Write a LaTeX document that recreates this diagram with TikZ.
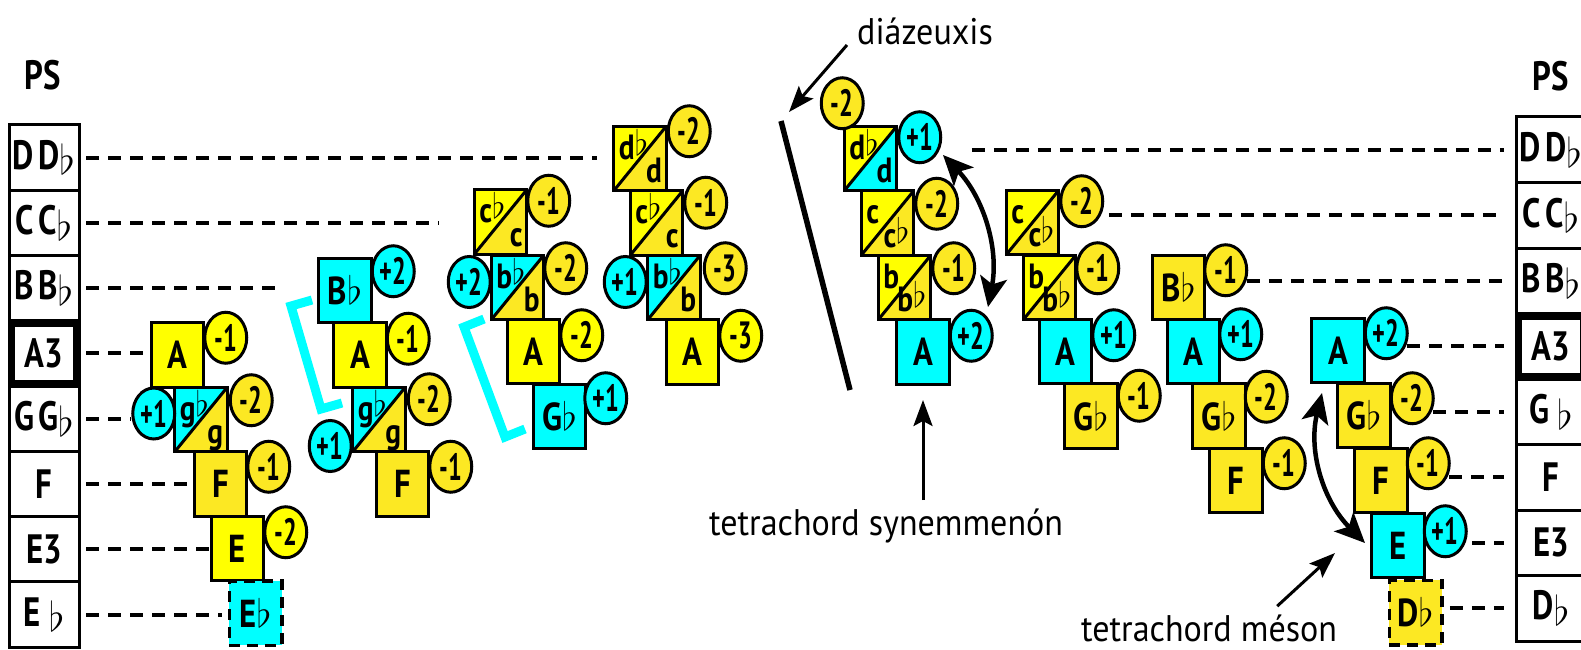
\RequirePackage{fix-cm}
\documentclass[tikz,border=0pt]{standalone}
\usepackage{fontspec}
\setmainfont{PT Sans}
\newfontfamily\lblfont[FakeStretch=0.84]{PT Sans}
\newfontfamily\tabfont[FakeStretch=0.8]{PT Sans}
\newfontfamily\cirfont[FakeStretch=0.64]{PT Sans}
\newfontfamily\txtfont[FakeStretch=0.92]{PT Sans}
\usetikzlibrary{arrows.meta,shapes.geometric}

\definecolor{ybright}{HTML}{FFFF00}
\definecolor{ygold}{HTML}{FCE823}
\definecolor{tcyan}{HTML}{00FFFF}

% flat signs: plain, raised (after small letters), lowered (table labels)
\newcommand\flt{\ensuremath{\flat}}
\newcommand\flsup{\raisebox{0.12em}{\ensuremath{\flat}}}
\newcommand\fllow{\raisebox{-0.14em}{\ensuremath{\flat}}}

\tikzset{
  rim/.style={line width=3pt, line join=miter},
  notebox/.style={draw, line width=3pt, minimum width=52.5pt, minimum height=64.5pt,
    inner sep=0pt, outer sep=0pt, font=\lblfont\bfseries\fontsize{39}{39}\selectfont},
  ghost/.style={minimum width=52.5pt, minimum height=64.5pt, inner sep=0pt, outer sep=0pt},
  notelbl/.style={inner sep=0pt, font=\lblfont\bfseries\fontsize{35}{35}\selectfont},
  dashbox/.style={notebox, line width=3.5pt, dash pattern=on 11pt off 7pt},
  circ/.style={ellipse, draw, line width=3pt, minimum width=42pt, minimum height=51pt,
    inner sep=0pt, outer sep=0pt, font=\cirfont\bfseries\fontsize{38}{38}\selectfont},
  cell/.style={draw, line width=3pt, minimum width=70pt, minimum height=65.3pt,
    inner sep=0pt, outer sep=0pt, font=\tabfont\bfseries\fontsize{41}{41}\selectfont},
  rcell/.style={cell, minimum height=65.5pt},
  pslabel/.style={inner sep=0pt, font=\tabfont\bfseries\fontsize{41}{41}\selectfont},
  guide/.style={line width=4pt, dash pattern=on 13pt off 9pt},
  txt/.style={inner sep=0pt, font=\txtfont\fontsize{37}{37}\selectfont},
  bracket/.style={tcyan, line width=9pt, line join=miter},
  pointer/.style={line width=3pt, -{Stealth[length=26pt,width=19pt,inset=5pt]}},
  swing/.style={line width=4.5pt,
    {Stealth[length=30pt,width=27pt,inset=7pt]}-{Stealth[length=30pt,width=27pt,inset=7pt]}},
}

% a note box cut along its diagonal: name, x, y, upper fill, lower fill, upper text, lower text
\newcommand\splitnote[7]{%
  \node[ghost] (#1) at (#2,#3) {};
  \fill[#4] (#1.north west) -- (#1.north east) -- (#1.south west) -- cycle;
  \fill[#5] (#1.north east) -- (#1.south east) -- (#1.south west) -- cycle;
  \draw[rim] (#1.south west) -- (#1.north east);
  \draw[rim] (#1.north west) rectangle (#1.south east);
  \node[notelbl, anchor=base west] at ([shift={(5,33)}]#1.north west) {#6};
  \node[notelbl, anchor=base east] at ([shift={(-4,-8)}]#1.south east) {#7};
}

\begin{document}
\begin{tikzpicture}[x=1pt,y=-1pt]
\path[use as bounding box] (0,0) rectangle (1581,650);
\clip (0,0) rectangle (1581,650);
\fill[white] (0,0) rectangle (1581,650);

% ---------- pitch tables ----------
\node[pslabel] (psL) at (43,75) {PS};
\node[cell] (L1) at (44,157.5) {D\hspace{4pt}D\fllow};
\node[cell] (L2) at (44,222.8) {C\hspace{4pt}C\fllow};
\node[cell] (L3) at (44,288.1) {B\hspace{4pt}B\fllow};
\node[cell] (L4) at (44,353.4) {A3};
\node[cell] (L5) at (44,418.7) {G\hspace{4pt}G\fllow};
\node[cell] (L6) at (44,484.0) {F};
\node[cell] (L7) at (44,549.3) {E3};
\node[cell] (L8) at (44,614.6) {E\hspace{8pt}\fllow};
\draw[line width=5pt] ([shift={(3.5,3.5)}]L4.north west) rectangle ([shift={(-3.5,-3.5)}]L4.south east);

\node[pslabel] (psR) at (1551,76) {PS};
\node[rcell] (R1) at (1551,149.75) {D\hspace{4pt}D\fllow};
\node[rcell] (R2) at (1551,215.25) {C\hspace{4pt}C\fllow};
\node[rcell] (R3) at (1551,280.75) {B\hspace{4pt}B\fllow};
\node[rcell] (R4) at (1551,346.25) {A3};
\node[rcell] (R5) at (1551,411.75) {G\hspace{8pt}\fllow};
\node[rcell] (R6) at (1551,477.25) {F};
\node[rcell] (R7) at (1551,542.75) {E3};
\node[rcell] (R8) at (1551,608.25) {D\fllow};
\draw[line width=5pt] ([shift={(3.5,3.5)}]R4.north west) rectangle ([shift={(-3.5,-3.5)}]R4.south east);

% ---------- brackets and the diazeuxis bar ----------
\draw[bracket] (312,300) -- (291,306) -- (321,409) -- (342,403);
\draw[bracket] (484,319) -- (464,327) -- (505,437) -- (525,429);
\coordinate (dzTop) at (781,121);
\coordinate (dzBot) at (850,390);
\draw[line width=5.5pt] (dzTop) -- (dzBot);

% ---------- column 1 ----------
\node[notebox, fill=ybright] (a1) at (177.5,355) {A};
\splitnote{g1}{201}{419.5}{tcyan}{ygold}{g\flsup}{g}
\node[notebox, fill=ygold] (f1) at (220.5,484) {F};
\node[notebox, fill=ybright] (e1) at (237.5,548.5) {E};
\node[dashbox, fill=tcyan] (eb1) at (255.5,613) {E\flt};

% ---------- column 2 ----------
\node[notebox, fill=tcyan] (bb2) at (345,290.5) {B\flt};
\node[notebox, fill=ybright] (a2) at (360,355) {A};
\splitnote{g2}{379}{419.5}{tcyan}{ygold}{g\flsup}{g}
\node[notebox, fill=ygold] (f2) at (402.5,484) {F};

% ---------- column 3 ----------
\splitnote{c3}{500.5}{222}{ybright}{ygold}{c\flsup}{c}
\splitnote{b3}{517.5}{287.5}{tcyan}{ygold}{b\flsup}{b}
\node[notebox, fill=ybright] (a3) at (533.5,351.5) {A};
\node[notebox, fill=tcyan] (gb3) at (559.5,416.5) {G\flt};

% ---------- column 4 ----------
\splitnote{d4}{640}{158.5}{ybright}{ygold}{d\flsup}{d}
\splitnote{c4}{656.5}{223}{ybright}{ygold}{c\flsup}{c}
\splitnote{b4}{674}{287.5}{tcyan}{ygold}{b\flsup}{b}
\node[notebox, fill=ybright] (a4) at (692.5,352) {A};

% ---------- column 5 ----------
\splitnote{d5}{870.5}{158.5}{ybright}{tcyan}{d\flsup}{d}
\splitnote{c5}{887.5}{223}{ybright}{ygold}{c}{c\flsup}
\splitnote{b5}{904.5}{287.5}{ybright}{ygold}{b}{b\flsup}
\node[notebox, fill=tcyan] (a5) at (923,352) {A};

% ---------- column 6 ----------
\splitnote{c6}{1032.5}{222.5}{ybright}{ygold}{c}{c\flsup}
\splitnote{b6}{1049.5}{287.5}{ybright}{ygold}{b}{b\flsup}
\node[notebox, fill=tcyan] (a6) at (1065.5,351.5) {A};
\node[notebox, fill=ygold] (gb6) at (1091,416) {G\flt};

% ---------- column 7 ----------
\node[notebox, fill=ygold] (bb7) at (1178.5,287.5) {B\flt};
\node[notebox, fill=tcyan] (a7) at (1193.5,351.5) {A};
\node[notebox, fill=ygold] (gb7) at (1219,416) {G\flt};
\node[notebox, fill=ygold] (f7) at (1236,480.5) {F};

% ---------- column 8 ----------
\node[notebox, fill=tcyan] (a8) at (1338,350.5) {A};
\node[notebox, fill=ygold] (gb8) at (1364,415.5) {G\flt};
\node[notebox, fill=ygold] (f8) at (1381,480.5) {F};
\node[notebox, fill=tcyan] (e8) at (1398,545.5) {E};
\node[dashbox, fill=ygold] (db8) at (1415.5,612.5) {D\flt};

% ---------- deviation marks ----------
\node[circ, fill=ybright] (a1r) at ([shift={(22,15)}]a1.north east) {-1};
\node[circ, fill=ygold] (g1r) at ([shift={(24,13)}]g1.north east) {-2};
\node[circ, fill=tcyan] (g1l) at ([shift={(-21,-6)}]g1.west) {+1};
\node[circ, fill=ygold] (f1r) at ([shift={(22,15)}]f1.north east) {-1};
\node[circ, fill=ybright] (e1r) at ([shift={(22,16)}]e1.north east) {-2};

\node[circ, fill=tcyan] (bb2r) at ([shift={(22,13)}]bb2.north east) {+2};
\node[circ, fill=ybright] (a2r) at ([shift={(22,16)}]a2.north east) {-1};
\node[circ, fill=ygold] (g2r) at ([shift={(24,12)}]g2.north east) {-2};
\node[circ, fill=tcyan] (g2l) at ([shift={(-22.5,26.5)}]g2.west) {+1};
\node[circ, fill=ygold] (f2r) at ([shift={(22,15)}]f2.north east) {-1};

\node[circ, fill=ygold] (c3r) at ([shift={(22,11)}]c3.north east) {-1};
\node[circ, fill=ygold] (b3r) at ([shift={(22,13)}]b3.north east) {-2};
\node[circ, fill=tcyan] (b3l) at ([shift={(-22,-5.5)}]b3.west) {+2};
\node[circ, fill=ybright] (a3r) at ([shift={(22,16)}]a3.north east) {-2};
\node[circ, fill=tcyan] (gb3r) at ([shift={(20,14)}]gb3.north east) {+1};

\node[circ, fill=ygold] (d4r) at ([shift={(23,5)}]d4.north east) {-2};
\node[circ, fill=ygold] (c4r) at ([shift={(23,12)}]c4.north east) {-1};
\node[circ, fill=ygold] (b4r) at ([shift={(25,13)}]b4.north east) {-3};
\node[circ, fill=tcyan] (b4l) at ([shift={(-22.5,-5.5)}]b4.west) {+1};
\node[circ, fill=ybright] (a4r) at ([shift={(22,16)}]a4.north east) {-3};

\node[circ, fill=ygold] (d5t) at ([shift={(-2,-23)}]d5.north west) {-2};
\node[circ, fill=tcyan] (d5r) at ([shift={(23,11)}]d5.north east) {+1};
\node[circ, fill=ygold] (c5r) at ([shift={(23,13)}]c5.north east) {-2};
\node[circ, fill=ygold] (b5r) at ([shift={(23,13)}]b5.north east) {-1};
\node[circ, fill=tcyan] (a5r) at ([shift={(22,16)}]a5.north east) {+2};

\node[circ, fill=ygold] (c6r) at ([shift={(23,11)}]c6.north east) {-2};
\node[circ, fill=ygold] (b6r) at ([shift={(22,13)}]b6.north east) {-1};
\node[circ, fill=tcyan] (a6r) at ([shift={(22,16)}]a6.north east) {+1};
\node[circ, fill=ygold] (gb6r) at ([shift={(22,12)}]gb6.north east) {-1};

\node[circ, fill=ygold] (bb7r) at ([shift={(21,15)}]bb7.north east) {-1};
\node[circ, fill=tcyan] (a7r) at ([shift={(21,15)}]a7.north east) {+1};
\node[circ, fill=ygold] (gb7r) at ([shift={(21,13)}]gb7.north east) {-2};
\node[circ, fill=ygold] (f7r) at ([shift={(22,15)}]f7.north east) {-1};

\node[circ, fill=tcyan] (a8r) at ([shift={(22,15)}]a8.north east) {+2};
\node[circ, fill=ygold] (gb8r) at ([shift={(22,15)}]gb8.north east) {-2};
\node[circ, fill=ygold] (f8r) at ([shift={(21,15)}]f8.north east) {-1};
\node[circ, fill=tcyan] (e8r) at ([shift={(21,18)}]e8.north east) {+1};

% ---------- guide lines to the tables ----------
\draw[guide, shorten <=7pt, shorten >=17pt] (L1.east) -- (L1.east -| d4.west);
\draw[guide, shorten <=7pt, shorten >=35pt] (L2.east) -- (L2.east -| c3.west);
\draw[guide, shorten <=7pt, shorten >=41pt] (L3.east) -- (L3.east -| bb2.west);
\draw[guide, shorten <=7pt, shorten >=3pt] (L4.east) -- (L4.east -| a1.west);
\draw[guide, shorten <=7pt, shorten >=2pt] (L5.east) -- (L5.east -| g1l.west);
\draw[guide, shorten <=7pt, shorten >=4pt] (L6.east) -- (L6.east -| f1.west);
\draw[guide, shorten <=7pt, shorten >=2pt] (L7.east) -- (L7.east -| e1.west);
\draw[guide, shorten <=7pt, shorten >=7pt] (L8.east) -- (L8.east -| eb1.west);

\draw[guide, shorten <=31pt, shorten >=12pt] (R1.west -| d5r.east) -- (R1.west);
\draw[guide, shorten <=6pt, shorten >=12pt] (R2.west -| c6r.east) -- (R2.west);
\draw[guide, shorten >=12pt] (R3.west -| bb7r.east) -- (R3.west);
\draw[guide, shorten >=12pt] (R4.west -| a8r.east) -- (R4.west);
\draw[guide, shorten >=12pt] (R5.west -| gb8r.east) -- (R5.west);
\draw[guide, shorten >=12pt] (R6.west -| f8r.east) -- (R6.west);
\draw[guide, shorten <=6pt, shorten >=12pt] (R7.west -| e8r.east) -- (R7.west);
\draw[guide, shorten <=8pt, shorten >=12pt] (R8.west -| db8.east) -- (R8.west);

% ---------- labels and arrows ----------
\node[txt, anchor=base west] (dz) at (857,45) {diázeuxis};
\node[txt, anchor=base west] (syn) at (709,535) {tetrachord synemmenón};
\node[txt, anchor=base west] (mes) at (1081,641) {tetrachord méson};

\coordinate (dzTip) at (789,112);
\draw[pointer] ([xshift=-10pt]dz.base west) -- (dzTip);
\coordinate (synTip) at (923,400);
\draw[pointer, shorten <=8pt] (syn.north -| synTip) -- (synTip);
\coordinate (mesTip) at (1335,553);
\draw[pointer] ([xshift=-60pt,yshift=8pt]mes.north east) -- (mesTip);

\coordinate (sw1a) at (943,155);
\coordinate (sw1b) at (988,307);
\draw[swing] (sw1a) .. controls (984,198) and (999,249) .. (sw1b);
\coordinate (sw2a) at (1322,393);
\coordinate (sw2b) at (1365,543);
\draw[swing] (sw2a) .. controls (1308,451) and (1323,501) .. (sw2b);
\end{tikzpicture}
\end{document}
